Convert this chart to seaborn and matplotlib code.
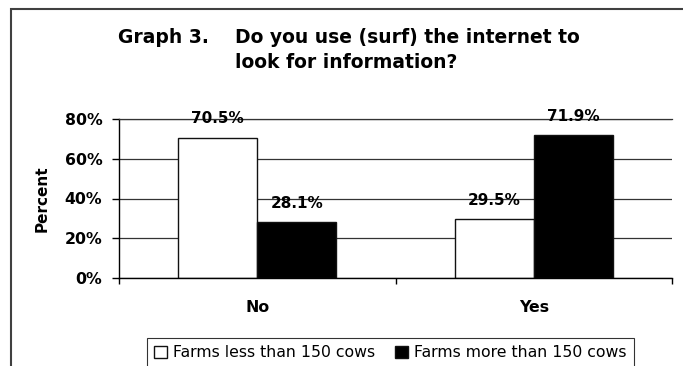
import matplotlib
matplotlib.use("Agg")
import matplotlib.pyplot as plt
import matplotlib.patches as mpatches
from matplotlib.ticker import FuncFormatter, FixedLocator
import seaborn as sns
import pandas as pd

categories = ["No", "Yes"]
series_names = ["Farms less than 150 cows", "Farms more than 150 cows"]
small_farms = [70.5, 29.5]
large_farms = [28.1, 71.9]
y_ticks = [0, 20, 40, 60, 80]
title_prefix = "Graph 3."
title_lines = ["Do you use (surf) the internet to", "look for information?"]

sns.set_theme(style="white")
plt.rcParams['font.family'] = ['DejaVu Sans']
for k in ["text.color", "axes.labelcolor", "xtick.color", "ytick.color"]:
    plt.rcParams[k] = "black"

df = pd.DataFrame({
    "Answer": categories * 2,
    "Group": [series_names[0]] * len(categories) + [series_names[1]] * len(categories),
    "Percent": small_farms + large_farms,
})

W, H = 683, 366
FS = 11.3
fig = plt.figure(figsize=(W / 100, H / 100), dpi=100)
ax = fig.add_axes([119 / W, 1 - 278 / H, (672 - 119) / W, (278 - 119) / H])

sns.barplot(data=df, x="Answer", y="Percent", hue="Group",
            palette=["white", "black"], edgecolor="#111111", linewidth=1,
            width=0.572, saturation=1, ax=ax, errorbar=None)

ax.set_xlim(-0.5, len(categories) - 0.5)
ax.set_ylim(0, 80)
ax.yaxis.set_major_locator(FixedLocator(y_ticks))
ax.yaxis.set_major_formatter(FuncFormatter(lambda v, p: f"{v:.0f}%"))
ax.yaxis.grid(True, color="#333333", linewidth=0.9)
ax.set_axisbelow(True)
ax.spines["right"].set_visible(False)
ax.spines["top"].set_color("#333333")
ax.spines["top"].set_linewidth(0.9)
for s in ["left", "bottom"]:
    ax.spines[s].set_color("black")
    ax.spines[s].set_linewidth(1)

# category labels at centers, ticks at boundaries
ax.set_xticks(range(len(categories)))
ax.set_xticklabels(categories, fontweight="bold", fontsize=FS)
ax.set_xticks([i - 0.5 for i in range(len(categories) + 1)], minor=True)
ax.tick_params(axis="x", which="major", length=0, pad=15.5)
ax.tick_params(axis="x", which="minor", length=4, width=1, direction="out", color="black", bottom=True)
ax.tick_params(axis="y", which="major", length=5, width=1, direction="out", color="black", left=True, pad=7)
for lab in ax.get_yticklabels():
    lab.set_fontweight("bold")
    lab.set_fontsize(FS)

ax.set_xlabel("")
ax.set_ylabel("")
fig.text(42 / W, 1 - 199 / H, "Percent", rotation=90, fontweight="bold",
         fontsize=11, ha="center", va="center")

# value labels
for cont in ax.containers:
    for bar in cont:
        h = bar.get_height()
        ax.annotate(f"{h:.1f}%", (bar.get_x() + bar.get_width() / 2, h),
                    xytext=(0, 19), textcoords="offset pixels",
                    ha="center", va="center", fontweight="bold", fontsize=11,
                    annotation_clip=False)

handles, labels = ax.get_legend_handles_labels()
if ax.get_legend() is not None:
    ax.get_legend().remove()
leg = fig.legend(handles, labels, loc="upper left",
                 bbox_to_anchor=(147 / W, 1 - 338 / H), ncol=2,
                 fontsize=FS, frameon=True, fancybox=False, shadow=False,
                 handlelength=0.8, handleheight=0.8, handletextpad=0.4,
                 columnspacing=1.3, borderpad=0.45, borderaxespad=0)
leg.get_frame().set_edgecolor("black")
leg.get_frame().set_linewidth(0.8)

# title
fig.text(118 / W, 1 - 43 / H, title_prefix, fontweight="bold", fontsize=13.5,
         ha="left", va="baseline")
fig.text(235 / W, 1 - 43 / H, title_lines[0], fontweight="bold", fontsize=13.5,
         ha="left", va="baseline")
fig.text(235 / W, 1 - 68 / H, title_lines[1], fontweight="bold", fontsize=13.5,
         ha="left", va="baseline")

# outer chart frame
frame = mpatches.Rectangle((11 / W, -0.1), 1.2, 1 - 9 / H + 0.1,
                           transform=fig.transFigure, fill=False,
                           edgecolor="#404040", linewidth=1.5, clip_on=False)
fig.patches.append(frame)

fig.savefig("out.png", dpi=100)
